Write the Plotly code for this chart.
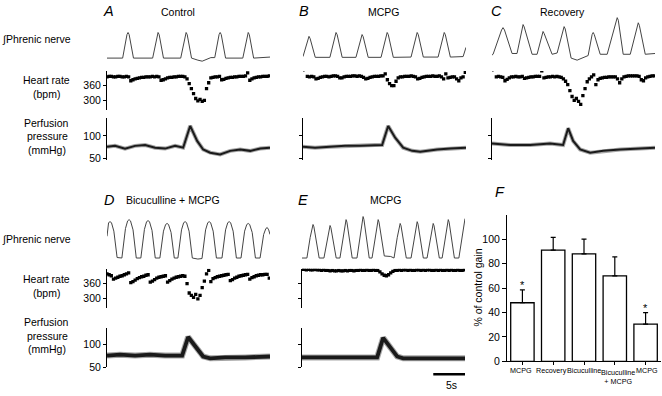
import plotly.graph_objects as go

W, H = 662, 396
FONT = "Liberation Sans, Arial, Helvetica, sans-serif"

# ---------------- data ----------------
time_range = [0, 22.6]
hr_dt = 0.3  # s between heart-rate samples

# Integrated phrenic nerve activity (arbitrary units), vertices
phr_a_t = [0, 2.17, 2.77, 2.92, 3.07, 3.67, 6.33, 6.93, 7.08, 7.23, 7.83, 10.22, 10.82, 10.97, 11.12, 11.72,
           12.6, 13.2, 14.4, 14.94, 15.54, 15.69, 15.84, 16.44, 18.83, 19.43, 19.58, 19.73, 20.33, 22.6]
phr_a_v = [0, 0, 0.92, 1.0, 0.92, 0, 0, 0.92, 1.0, 0.92, 0, 0, 0.92, 1.0, 0.92, 0,
           -0.08, -0.12, 0.02, 0.02, 0.92, 1.0, 0.92, 0, 0, 0.92, 1.0, 0.92, 0, 0.04]

phr_b_t = [0, 0.68, 0.83, 0.98, 1.7, 3.73, 4.43, 4.58, 4.73, 5.43, 7.34, 8.04, 8.19, 8.34, 9.04,
           10.82, 11.52, 11.67, 11.82, 12.52, 14.98, 15.68, 15.83, 15.98, 16.68, 18.73, 19.43, 19.58, 19.73,
           20.43, 22.2, 22.6]
phr_b_v = [0.06, 0.77, 0.85, 0.77, 0.03, 0.03, 0.92, 1.0, 0.92, 0.03, 0.03, 0.84, 0.92, 0.84, 0.03,
           0.03, 0.92, 1.0, 0.92, 0.03, 0.04, 0.92, 1.0, 0.92, 0.04, 0.04, 0.92, 1.0, 0.92,
           0.04, 0.06, 0.42]

phr_c_t = [0, 0.15, 1.33, 1.53, 1.73, 2.78, 3.47, 4.16, 4.31, 4.46, 5.56, 6.25, 6.93, 7.08, 7.23, 8.33,
           9.03, 9.85, 10.0, 10.15, 10.97, 11.8, 12.6, 13.33, 13.88, 14.03, 14.18, 15.0,
           15.97, 17.21, 17.36, 17.51, 18.19, 19.17, 20.13, 20.28, 20.43, 21.25, 22.6]
phr_c_v = [0.12, 0.15, 1.1, 1.19, 1.1, 0.18, 0.18, 1.22, 1.31, 1.22, 0.15, 0.15, 0.96, 1.04, 0.96, 0.15,
           0.2, 1.14, 1.23, 1.14, 0.0, -0.08, 0.0, 0.1, 0.92, 1.0, 0.92, 0.15,
           0.15, 1.48, 1.58, 1.48, 0.15, 0.15, 1.28, 1.38, 1.28, 0.15, 0.18]

phr_d_t = [0, 0.22, 0.42, 0.62, 0.95, 1.4,
           2.06, 2.56, 2.86, 3.06, 3.26, 3.61, 4.06,
           4.69, 5.19, 5.49, 5.69, 5.89, 6.24, 6.69,
           7.33, 7.83, 8.13, 8.33, 8.53, 8.88, 9.33,
           9.83, 10.33, 10.63, 10.83, 11.03, 11.38, 11.83,
           12.6, 13.17, 13.67, 13.97, 14.17, 14.37, 14.72, 15.17,
           15.94, 16.44, 16.74, 16.94, 17.14, 17.49, 17.94,
           18.58, 19.08, 19.38, 19.58, 19.78, 20.13, 20.58,
           21.22, 21.72, 22.02, 22.22, 22.42, 22.6]
phr_d_v = [0.85, 1.38, 1.42, 1.38, 1.05, 0.02,
           0.0, 1.15, 1.45, 1.5, 1.45, 1.1, 0.0,
           0.0, 1.12, 1.42, 1.46, 1.42, 1.08, 0.0,
           0.0, 1.05, 1.31, 1.35, 1.31, 1.0, 0.0,
           0.0, 1.1, 1.38, 1.42, 1.38, 1.05, 0.0,
           -0.04, -0.02, 1.1, 1.38, 1.42, 1.38, 1.05, 0.0,
           0.0, 1.1, 1.38, 1.42, 1.38, 1.05, 0.0,
           0.0, 1.05, 1.31, 1.35, 1.31, 1.0, 0.0,
           0.0, 0.92, 1.15, 1.19, 1.1, 0.92]

phr_e_t = [0, 0.68, 1.13, 1.41, 1.53, 1.65, 1.93, 2.38,
           3.04, 3.49, 3.77, 3.89, 4.01, 4.29, 4.74,
           5.26, 5.71, 5.99, 6.11, 6.23, 6.51, 6.96,
           7.62, 8.07, 8.35, 8.47, 8.59, 8.87, 9.32,
           9.71, 10.16, 10.44, 10.56, 10.68, 10.96, 11.41,
           12.3, 12.76, 13.21, 13.49, 13.61, 13.73, 14.01, 14.46,
           15.12, 15.57, 15.85, 15.97, 16.09, 16.37, 16.82,
           17.34, 17.79, 18.07, 18.19, 18.31, 18.59, 19.04,
           19.43, 19.88, 20.16, 20.28, 20.4, 20.68, 21.13,
           21.75, 22.2, 22.48, 22.6]
phr_e_v = [0, 0.0, 0.8, 1.22, 1.31, 1.22, 0.8, 0.0,
           0.0, 0.76, 1.18, 1.27, 1.18, 0.76, 0.0,
           0.0, 0.9, 1.4, 1.5, 1.4, 0.9, 0.0,
           0.0, 0.97, 1.5, 1.62, 1.5, 0.97, 0.0,
           0.0, 0.9, 1.4, 1.5, 1.4, 0.9, 0.08,
           0.06, 0.0, 0.81, 1.26, 1.35, 1.26, 0.81, 0.0,
           0.0, 0.85, 1.32, 1.42, 1.32, 0.85, 0.0,
           0.0, 0.81, 1.26, 1.35, 1.26, 0.81, 0.0,
           0.0, 0.9, 1.4, 1.5, 1.4, 0.9, 0.0,
           0.0, 0.92, 1.43, 1.54]

# Heart rate (bpm), one value every hr_dt seconds
hr_a = [396, 398, 398, 396, 396, 398, 398, 396, 396, 398, 396, 380, 384, 388, 390, 392, 394, 394, 396, 396,
        396, 398, 396, 398, 396, 382, 384, 388, 392, 394, 394, 396, 396, 398, 398, 398, 396, 388, 368, 348,
        328, 308, 298, 304, 296, 300, 348, 372, 392, 394, 396, 396, 398, 384, 386, 390, 392, 394, 394, 396,
        396, 398, 398, 398, 400, 412, 382, 388, 392, 394, 396, 396, 398, 398, 398, 400]
hr_b = [424, None, 398, 396, 398, 396, 388, 390, 394, 396, 398, 398, 396, 398, 400, 400, 398, 392, 392, 396,
        398, 398, 398, 400, 400, 398, 400, 398, 394, 388, 390, 394, 396, 398, 398, 398, 400, 400, 408, 384,
        368, 360, 360, 378, 392, 396, 396, 398, 398, 398, 400, 398, 396, 388, 390, 394, 396, 398, 398, 398,
        400, 398, 398, 400, 396, 388, 408, 392, 394, 396, 396, 388, 380, 392, 396, 414]
hr_c = [424, None, 396, 398, 396, 394, 380, 386, 392, 396, 396, 398, 396, 396, 398, 390, 392, 394, 396, 396,
        398, 398, 398, 420, 392, 394, 396, 396, 398, 396, 398, 396, 394, 388, 378, 364, 340, 316, 300, 308,
        296, 284, 320, 348, 376, 388, 396, 404, 364, 384, 390, 392, 394, 394, 396, 396, 396, 396, 388, 372,
        388, 396, 398, 400, 400, 400, 400, 400, 398, 384, 380, 392, 396, 398, 400, 400]
hr_d = [400, 396, 392, 378, 382, 386, 390, 392, 396, 400, 404, 364, 368, 374, 380, 384, 388, 390, 394, 396,
        366, 370, 376, 382, 386, 388, 390, 392, 366, 372, 378, 382, 386, 388, 390, 392, 390, 360, 322, 312,
        304, 316, 298, 312, 344, 370, 400, 414, 368, 380, 384, 388, 390, 392, 394, 396, 398, 372, 376, 382,
        386, 390, 392, 394, 396, 398, 378, 384, 388, 392, 394, 396, 396, 398, 398, 382]
hr_e = [418, 418, 416, 418, 416, 416, 418, 416, 416, 414, 416, 414, 414, 412, 414, 412, 412, 414, 412, 412,
        414, 412, 414, 414, 412, 414, 414, 416, 414, 414, 416, 414, 414, 416, 414, 414, 408, 400, 394, 392,
        396, 404, 410, 414, 414, 416, 414, 416, 416, 414, 416, 414, 414, 416, 416, 414, 416, 414, 416, 416,
        414, 414, 416, 414, 416, 414, 414, 416, 414, 416, 414, 414, 416, 414, 414, 416]

# Perfusion pressure (mmHg), vertices
pp_a_t = [0, 1.11, 2.5, 3.89, 5.28, 6.67, 8.06, 9.44, 10.56, 11.53, 12.5, 13.33, 14.31, 15.69, 17.08, 18.47,
          19.86, 21.25, 22.6]
pp_a_v = [76, 78, 72, 78, 80, 74, 72, 78, 74, 122, 89, 70, 63, 59, 67, 70, 67, 72, 74]
pp_b_t = [0, 1.67, 3.75, 5.83, 7.92, 10.0, 10.97, 11.81, 12.78, 13.89, 15.14, 16.25, 18.61, 20.42, 22.6]
pp_b_v = [76, 74, 76, 78, 78, 80, 80, 122, 96, 74, 67, 65, 70, 72, 74]
pp_c_t = [0, 2.5, 5.28, 8.06, 9.86, 10.56, 11.25, 12.22, 13.61, 15.42, 17.78, 20.56, 22.6]
pp_c_v = [83, 80, 80, 83, 80, 117, 89, 70, 63, 67, 70, 72, 74]
pp_d_t = [0, 1.81, 3.89, 5.97, 8.06, 10.42, 11.25, 12.5, 13.33, 14.31, 16.39, 19.17, 22.6]
pp_d_v = [76, 78, 76, 78, 76, 76, 117, 93, 74, 70, 72, 72, 74]
pp_e_t = [0, 2.5, 5.28, 8.06, 10.42, 11.25, 12.22, 13.19, 14.03, 17.78, 22.6]
pp_e_v = [72, 72, 72, 72, 72, 115, 93, 74, 70, 70, 70]

# Panel F: baroreflex gain
gain_labels = ["MCPG", "Recovery", "Bicuculline", "Bicuculline<br>+ MCPG", "MCPG"]
gain_values = [48, 91, 88, 70, 30.5]
gain_errors = [10.5, 10.5, 12, 15.5, 9.5]
gain_signif = [True, False, False, False, True]

scale_bar_s = 5

panel_names = ["A", "B", "C", "D", "E"]
panel_titles = ["Control", "MCPG", "Recovery", "Bicuculline + MCPG", "MCPG"]

# ---------------- layout helpers (pixel geometry) ----------------
def dx(a, b):
    return [a / W, b / W]

def dy(top, bot):
    return [1 - bot / H, 1 - top / H]

def lin_range(top, bot, v1, p1, v2, p2):
    s = (v2 - v1) / (p2 - p1)
    return [v1 + (bot - p1) * s, v1 + (top - p1) * s]

panel_x = [(107, 270), (303, 466), (492, 655), (107, 270), (302, 465)]
row_geo = {
    "top": dict(phr=(14, 66, 0, 59, 1, 33), hr=(72, 112), pp=(120, 162, 100, 138, 50, 161)),
    "bot": dict(phr=(214, 268, 0, 262, 1, 236), hr=(273, 313), pp=(333, 373, 100, 350, 50, 373)),
}
panel_row = ["top", "top", "top", "bot", "bot"]
hr_axis_mode = ["labels", "none", "none", "labels", "line"]
pp_axis_mode = ["labels", "line", "line", "labels", "line"]

phr_data = [(phr_a_t, phr_a_v), (phr_b_t, phr_b_v), (phr_c_t, phr_c_v), (phr_d_t, phr_d_v), (phr_e_t, phr_e_v)]
hr_data = [hr_a, hr_b, hr_c, hr_d, hr_e]
pp_data = [(pp_a_t, pp_a_v), (pp_b_t, pp_b_v), (pp_c_t, pp_c_v), (pp_d_t, pp_d_v), (pp_e_t, pp_e_v)]

fig = go.Figure()
layout = {}
LBL = 10.5
tickfont = dict(family=FONT, size=LBL, color="black")

for p in range(5):
    geo = row_geo[panel_row[p]]
    xd = dx(*panel_x[p])
    base = p * 3
    for r in range(3):
        k = base + r + 1
        layout[f"xaxis{k}"] = dict(domain=xd, range=time_range, visible=False, anchor=f"y{k}")
    # phrenic
    k = base + 1
    t, v = phr_data[p]
    fig.add_trace(go.Scatter(x=t, y=v, mode="lines", line=dict(color="#444", width=1),
                             xaxis=f"x{k}", yaxis=f"y{k}", hoverinfo="skip"))
    g = geo["phr"]
    layout[f"yaxis{k}"] = dict(domain=dy(g[0], g[1]), range=lin_range(*g), visible=False, anchor=f"x{k}")
    # heart rate
    k = base + 2
    vals = hr_data[p]
    ts = [i * hr_dt for i in range(len(vals))]
    fig.add_trace(go.Scatter(x=ts, y=vals, mode="markers",
                             marker=dict(symbol="square", size=3.3, color="black", line=dict(width=0)),
                             xaxis=f"x{k}", yaxis=f"y{k}", hoverinfo="skip"))
    g = geo["hr"]
    mode = hr_axis_mode[p]
    ax = dict(domain=dy(g[0], g[1]), range=[260, 420], anchor=f"x{k}", showgrid=False, zeroline=False)
    if mode == "none":
        ax["visible"] = False
    else:
        ax.update(showline=True, linecolor="black", linewidth=1, ticks="outside", ticklen=3,
                  tickcolor="black", tickvals=[300, 360], showticklabels=(mode == "labels"), tickfont=tickfont)
    layout[f"yaxis{k}"] = ax
    # perfusion pressure: soft halo + core line to mimic the pulsatile smear
    k = base + 3
    t, v = pp_data[p]
    top_row = panel_row[p] == "top"
    fig.add_trace(go.Scatter(x=t, y=v, mode="lines",
                             line=dict(color="rgba(0,0,0,0.35)", width=4 if top_row else 6),
                             xaxis=f"x{k}", yaxis=f"y{k}", hoverinfo="skip"))
    fig.add_trace(go.Scatter(x=t, y=v, mode="lines",
                             line=dict(color="#1a1a1a", width=2 if top_row else 3.8),
                             xaxis=f"x{k}", yaxis=f"y{k}", hoverinfo="skip"))
    g = geo["pp"]
    mode = pp_axis_mode[p]
    layout[f"yaxis{k}"] = dict(domain=dy(g[0], g[1]), range=lin_range(*g), anchor=f"x{k}",
                               showgrid=False, zeroline=False, showline=True, linecolor="black", linewidth=1,
                               ticks="outside", ticklen=3, tickcolor="black", tickvals=[50, 100],
                               showticklabels=(mode == "labels"), tickfont=tickfont)

# Panel F bar chart
cats = list(range(len(gain_values)))
fig.add_trace(go.Bar(x=cats, y=gain_values, width=0.76,
                     marker=dict(color="white", line=dict(color="black", width=1.3)),
                     error_y=dict(type="data", array=gain_errors, arrayminus=[0] * len(gain_errors),
                                  symmetric=False, color="black", thickness=1.2, width=2.5),
                     xaxis="x16", yaxis="y16", hoverinfo="skip"))
layout["xaxis16"] = dict(domain=dx(507, 661), range=[-0.5, 4.5], anchor="y16",
                         tickvals=cats, showticklabels=False,
                         showline=True, linecolor="black", linewidth=1, ticks="outside", ticklen=3,
                         tickcolor="black", showgrid=False, zeroline=False, tickson="boundaries")
layout["yaxis16"] = dict(domain=dy(218, 367), range=[0, 120], anchor="x16",
                         tickvals=[0, 20, 40, 60, 80, 100], showline=True, linecolor="black", linewidth=1,
                         ticks="outside", ticklen=4, tickcolor="black", showgrid=False, zeroline=False,
                         tickfont=tickfont)

annotations = []
def txt(x, y, s, size=LBL, anchor="center", italic=False, angle=0, family=FONT):
    annotations.append(dict(x=x / W, y=1 - y / H, xref="paper", yref="paper", text=s, showarrow=False,
                            xanchor=anchor, yanchor="middle", textangle=angle,
                            font=dict(family=family, size=size, color="black",
                                      style="italic" if italic else "normal")))

# category labels of panel F (placed under each bar, nudged so neighbours do not collide)
cat_shift = [-1.4, -2.2, -0.5, 3.2, 1.4]
for i, lab in enumerate(gain_labels):
    two_lines = "<br>" in lab
    annotations.append(dict(x=i, y=1 - (382.5 if two_lines else 376) / H, xref="x16", yref="paper",
                            text=lab, showarrow=False, xanchor="center", yanchor="middle",
                            xshift=cat_shift[i], font=dict(family=FONT, size=7.2, color="black")))

# panel letters and titles
letter_pos = [(108, 11), (304, 11), (496, 11), (109, 203), (303, 203)]
title_pos = [(178, 12), (384, 12), (562, 12), (173, 203), (386, 203)]
for p in range(5):
    txt(*letter_pos[p], panel_names[p], size=14.5, italic=True)
    txt(*title_pos[p], panel_titles[p], size=LBL)
txt(500, 195, "F", size=14.5, italic=True)

# row labels
for off in (0, 202.5):
    txt(0, 40 + off, "∫Phrenic nerve", anchor="left")
    txt(46, 81 + off, "Heart rate")
    txt(46, 95 + off, "(bpm)")
    txt(46, 124.5 + off, "Perfusion")
    txt(47, 138.5 + off, "pressure")
    txt(47, 152 + off, "(mmHg)")

txt(478, 292, "% of control gain", size=10.5, angle=-90)

# significance asterisks
for i, s in enumerate(gain_signif):
    if s:
        annotations.append(dict(x=i, y=gain_values[i] + gain_errors[i], xref="x16", yref="y16", text="*",
                                showarrow=False, yanchor="bottom", yshift=-3,
                                font=dict(family=FONT, size=11, color="black")))

# 5 s scale bar under panel E
sb_end = 23.2
fig.add_shape(type="line", xref="x13", yref="paper", x0=sb_end - scale_bar_s, x1=sb_end,
              y0=1 - 380 / H, y1=1 - 380 / H, line=dict(color="black", width=2.5))
annotations.append(dict(x=sb_end - scale_bar_s / 2, y=1 - 391 / H, xref="x13", yref="paper", text="5s",
                        showarrow=False, xanchor="center", yanchor="middle",
                        font=dict(family=FONT, size=LBL, color="black")))

fig.update_layout(width=W, height=H, margin=dict(l=0, r=0, t=0, b=0), showlegend=False,
                  paper_bgcolor="white", plot_bgcolor="rgba(0,0,0,0)", annotations=annotations,
                  bargap=0.2, **layout)

fig.write_html("out.html", config={"displayModeBar": False},
               post_script="document.body.style.margin='0px';document.body.style.overflow='hidden';")
